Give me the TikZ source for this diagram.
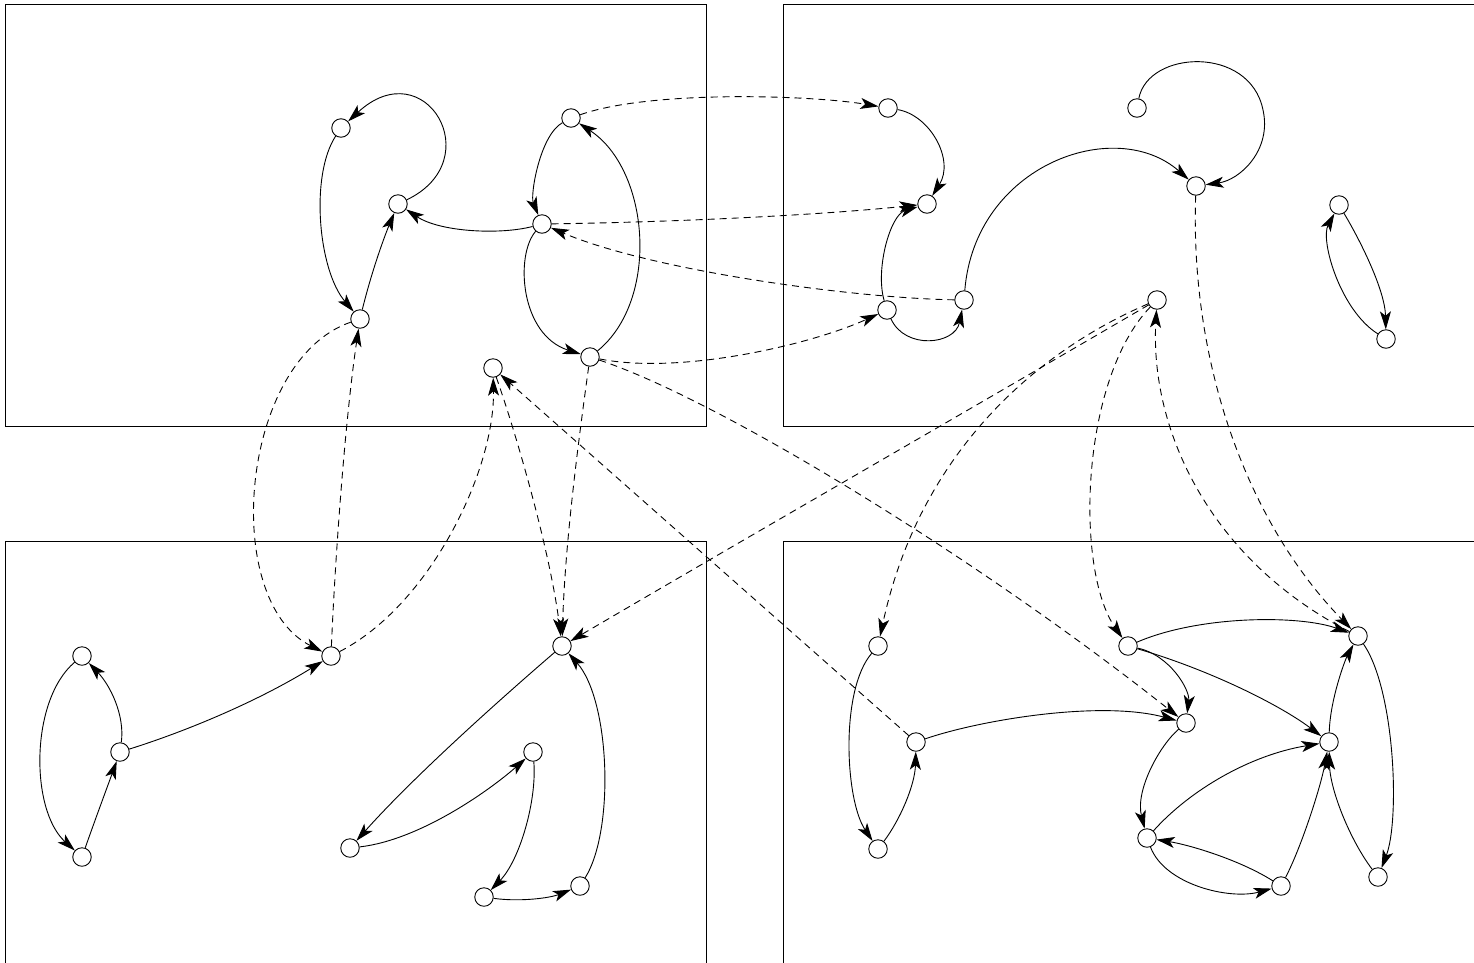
\documentclass[tikz,border=0pt]{standalone}
\usetikzlibrary{arrows.meta}
\begin{document}
\begin{tikzpicture}[x=1pt,y=-1pt,
  state/.style={circle,draw,line width=0.9pt,minimum size=18.5pt,inner sep=0pt},
  trans/.style={line width=0.9pt,-{Stealth[length=18pt,width=11pt,inset=4.5pt]}},
  link/.style={trans,dash pattern=on 7pt off 5pt},
  panel/.style={line width=0.9pt}]
\clip (0,0) rectangle (1474,962);
% four panels
\draw[panel] (5,4) rectangle (706,426);
\draw[panel] (783,4) rectangle (1490,426);
\draw[panel] (5,541) rectangle (706,980);
\draw[panel] (783,541) rectangle (1490,980);

% upper left states
\node[state] (a1) at (341,128) {};
\node[state] (a2) at (398,204) {};
\node[state] (a3) at (360,319) {};
\node[state] (a4) at (571,118) {};
\node[state] (a5) at (542,224) {};
\node[state] (a6) at (590,357) {};
\node[state] (a7) at (493,368) {};
% upper right states
\node[state] (b1) at (888,108) {};
\node[state] (b2) at (927,204) {};
\node[state] (b3) at (887,310) {};
\node[state] (b4) at (964,300) {};
\node[state] (b5) at (1137,108) {};
\node[state] (b6) at (1196,186) {};
\node[state] (b7) at (1157,300) {};
\node[state] (b8) at (1339,205) {};
\node[state] (b9) at (1386,339) {};
% lower left states
\node[state] (c1) at (82,656) {};
\node[state] (c2) at (120,752) {};
\node[state] (c3) at (82,857) {};
\node[state] (c4) at (331,656) {};
\node[state] (c5) at (562,646) {};
\node[state] (c6) at (350,848) {};
\node[state] (c7) at (533,752) {};
\node[state] (c8) at (484,897) {};
\node[state] (c9) at (580,886) {};
% lower right states
\node[state] (d1) at (878,646) {};
\node[state] (d2) at (916,742) {};
\node[state] (d3) at (878,849) {};
\node[state] (d4) at (1128,646) {};
\node[state] (d5) at (1186,723) {};
\node[state] (d6) at (1358,636) {};
\node[state] (d7) at (1329,742) {};
\node[state] (d8) at (1147,838) {};
\node[state] (d9) at (1281,886) {};
\node[state] (d10) at (1378,877) {};

% transitions, upper left
\draw[trans] (a2) .. controls (490,160) and (425,50) .. (a1);
\draw[trans] (a1) .. controls (310,175) and (318,270) .. (a3);
\draw[trans] (a3) .. controls (372,270) and (385,235) .. (a2);
\draw[trans] (a5) .. controls (500,235) and (440,232) .. (a2);
\draw[trans] (a4) .. controls (540,135) and (530,195) .. (a5);
\draw[trans] (a5) .. controls (515,255) and (520,335) .. (a6);
\draw[trans] (a6) .. controls (660,300) and (650,170) .. (a4);

% transitions, upper right
\draw[trans] (b1) .. controls (930,115) and (955,160) .. (b2);
\draw[trans] (b3) .. controls (875,270) and (890,215) .. (b2);
\draw[trans] (b3) .. controls (905,350) and (955,345) .. (b4);
\draw[trans] (b4) .. controls (975,165) and (1115,115) .. (b6);
\draw[trans] (b5) .. controls (1148,50) and (1250,45) .. (1263,110)
                 .. controls (1272,150) and (1240,180) .. (b6);
\draw[trans] (b8) .. controls (1360,240) and (1385,290) .. (b9);
\draw[trans] (b9) .. controls (1340,310) and (1320,240) .. (b8);

% transitions, lower left
\draw[trans] (c1) .. controls (30,700) and (30,810) .. (c3);
\draw[trans] (c2) .. controls (125,715) and (110,685) .. (c1);
\draw[trans] (c3) .. controls (95,820) and (108,785) .. (c2);
\draw[trans] (c2) .. controls (190,730) and (260,700) .. (c4);
\draw[trans] (c5) .. controls (505,695) and (415,775) .. (c6);
\draw[trans] (c6) .. controls (420,840) and (490,790) .. (c7);
\draw[trans] (c7) .. controls (537,800) and (520,860) .. (c8);
\draw[trans] (c8) .. controls (520,902) and (550,898) .. (c9);
\draw[trans] (c9) .. controls (615,830) and (610,700) .. (c5);

% transitions, lower right
\draw[trans] (d1) .. controls (840,690) and (845,800) .. (d3);
\draw[trans] (d3) .. controls (900,820) and (915,785) .. (d2);
\draw[trans] (d2) .. controls (980,720) and (1100,700) .. (d5);
\draw[trans] (d4) .. controls (1170,655) and (1190,690) .. (d5);
\draw[trans] (d4) .. controls (1200,615) and (1300,615) .. (d6);
\draw[trans] (d4) .. controls (1210,670) and (1280,705) .. (d7);
\draw[trans] (d5) .. controls (1160,745) and (1135,790) .. (d8);
\draw[trans] (d8) .. controls (1190,790) and (1250,755) .. (d7);
\draw[trans] (d9) .. controls (1240,860) and (1190,845) .. (d8);
\draw[trans] (d8) .. controls (1165,885) and (1230,900) .. (d9);
\draw[trans] (d9) .. controls (1300,850) and (1320,790) .. (d7);
\draw[trans] (d7) .. controls (1330,700) and (1345,660) .. (d6);
\draw[trans] (d6) .. controls (1395,690) and (1400,820) .. (d10);
\draw[trans] (d10) .. controls (1350,840) and (1330,790) .. (d7);

% links between panels
\draw[link] (a4) .. controls (650,90) and (810,95) .. (b1);
\draw[link] (a5) .. controls (680,222) and (820,215) .. (b2);
\draw[link] (b4) .. controls (850,298) and (650,270) .. (a5);
\draw[link] (a6) .. controls (680,375) and (810,345) .. (b3);
\draw[link] (a6) .. controls (720,400) and (980,560) .. (d5);
\draw[link] (a6) .. controls (580,430) and (565,540) .. (c5);
\draw[link] (a7) .. controls (515,430) and (550,550) .. (c5);
\draw[link] (a3) .. controls (240,360) and (220,600) .. (c4);
\draw[link] (c4) .. controls (335,560) and (345,420) .. (a3);
\draw[link] (c4) .. controls (430,605) and (495,470) .. (a7);
\draw[link] (d2) -- (a7);
\draw[link] (b7) .. controls (960,415) and (760,530) .. (c5);
\draw[link] (b7) .. controls (1040,350) and (920,450) .. (d1);
\draw[link] (b7) .. controls (1080,380) and (1075,570) .. (d4);
\draw[link] (d6) .. controls (1210,560) and (1150,430) .. (b7);
\draw[link] (b6) .. controls (1190,360) and (1245,520) .. (d6);
\end{tikzpicture}
\end{document}
